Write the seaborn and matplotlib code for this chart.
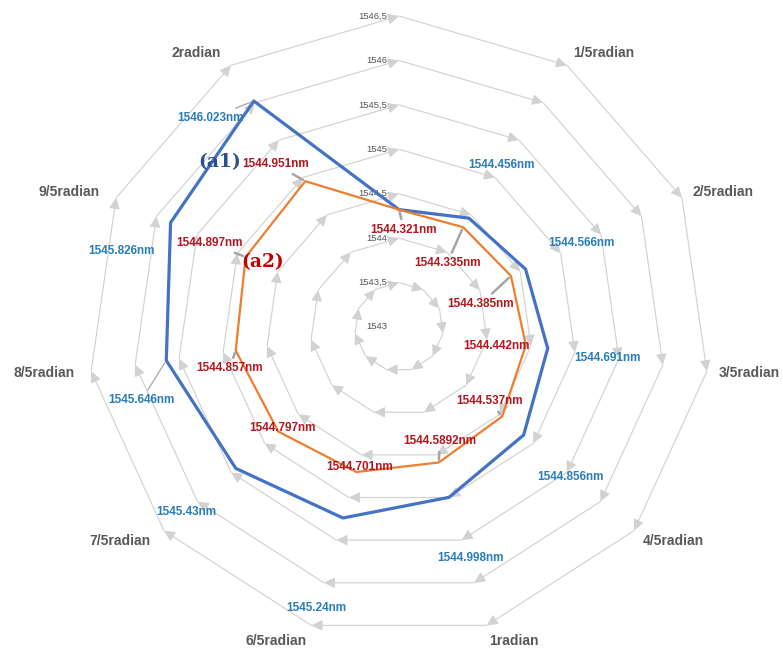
import numpy as np
import matplotlib
matplotlib.use("Agg")
import matplotlib.pyplot as plt
import seaborn as sns

# Angular categories (clockwise from the top)
categories = ["", "1/5radian", "2/5radian", "3/5radian", "4/5radian", "1radian",
              "6/5radian", "7/5radian", "8/5radian", "9/5radian", "2radian"]

# Resonance wavelengths (nm)
series_a1 = [1544.321, 1544.456, 1544.566, 1544.691, 1544.856, 1544.998,
             1545.24, 1545.43, 1545.646, 1545.826, 1546.023]
series_a2 = [1544.321, 1544.335, 1544.385, 1544.442, 1544.537, 1544.5892,
             1544.701, 1544.797, 1544.857, 1544.897, 1544.951]
a1_labels = ["", "1544.456nm", "1544.566nm", "1544.691nm", "1544.856nm", "1544.998nm",
             "1545.24nm", "1545.43nm", "1545.646nm", "1545.826nm", "1546.023nm"]
a2_labels = ["1544.321nm", "1544.335nm", "1544.385nm", "1544.442nm", "1544.537nm",
             "1544.5892nm", "1544.701nm", "1544.797nm", "1544.857nm", "1544.897nm",
             "1544.951nm"]

# Radial scale
r_ticks = [1543, 1543.5, 1544, 1544.5, 1545, 1545.5, 1546, 1546.5]
r_tick_labels = ["1543", "1543,5", "1544", "1544,5", "1545", "1545,5", "1546", "1546,5"]

# ---- layout / styling ----
BLUE_LINE = "#4472C4"
ORANGE_LINE = "#ED7D31"
BLUE_TEXT = "#2A7DB8"
RED_TEXT = "#B4161F"
GRID = "#dcdcdc"
ARROW = "#d2d2d2"
CAT_TEXT = "#595959"

# label offsets from the category vertex (pixels, x right / y down)
cat_offsets = [(0, 0), (6, -12), (11, -6), (12, 2), (9, 10), (3, 16),
               (-5, 16), (-13, 10), (-17, 2), (-16, -6), (-10, -12)]
cat_align = ["center", "left", "left", "left", "left", "left",
             "right", "right", "right", "right", "right"]

a1_offsets = [(0, 0), (33, -53), (56, -26), (60, 10), (47, 42), (21, 61),
              (-27, 90), (-50, 44), (-25, 40), (-49, 28), (-43, 17)]
a1_leader = [False, False, False, False, False, False, False, False, True, False, True]
a2_offsets = [(5, 20), (-16, 36), (-30, 28), (-29, 1), (-13, -15), (1, -21),
              (3, -5), (4, -4), (-6, 18), (-36, -14), (-30, -17)]
a2_leader = [True, True, True, False, True, True, False, False, True, True, True]

sns.set_theme(style="white")
plt.rcParams["font.family"] = ["Liberation Sans", "DejaVu Sans"]

fig = plt.figure(figsize=(7.83, 6.51), dpi=100)
fig.patch.set_facecolor("white")
ax = fig.add_axes([88 / 783, 13 / 651, 622 / 783, 622 / 651], projection="polar")
ax.set_theta_zero_location("N")
ax.set_theta_direction(-1)
ax.set_ylim(r_ticks[0], r_ticks[-1])
ax.grid(False)
ax.set_xticks([])
ax.set_yticks([])
ax.spines["polar"].set_visible(False)
ax.patch.set_visible(False)

n = len(categories)
theta = np.arange(n) * 2 * np.pi / n

# Polygon grid with clockwise arrowheads at every vertex
for lvl in r_ticks[1:]:
    for k in range(n):
        ax.annotate("", xy=(theta[k], lvl), xytext=(theta[k - 1], lvl),
                    xycoords="data", textcoords="data", annotation_clip=False,
                    arrowprops=dict(arrowstyle="-|>,head_length=0.55,head_width=0.27",
                                    color=GRID, fc=ARROW, ec=ARROW, lw=0.85,
                                    shrinkA=0, shrinkB=0), zorder=1)

# Radial tick labels along the top axis
for val, lab in zip(r_ticks, r_tick_labels):
    ax.annotate(lab, xy=(0, val), xytext=(-12, 0), textcoords="offset pixels",
                ha="right", va="center", fontsize=6.8, color="#555555",
                annotation_clip=False, zorder=2)

# Category labels
for k, name in enumerate(categories):
    if not name:
        continue
    dx, dy = cat_offsets[k]
    ax.annotate(name, xy=(theta[k], r_ticks[-1]), xytext=(dx, -dy),
                textcoords="offset pixels", ha=cat_align[k], va="center",
                fontsize=10, fontweight="bold", color=CAT_TEXT,
                annotation_clip=False)

# Data polygons
th_closed = np.append(theta, theta[0] + 2 * np.pi)
sns.lineplot(x=th_closed, y=series_a1 + series_a1[:1], sort=False, estimator=None,
             ax=ax, color=BLUE_LINE, linewidth=2.3, zorder=4)
sns.lineplot(x=th_closed, y=series_a2 + series_a2[:1], sort=False, estimator=None,
             ax=ax, color=ORANGE_LINE, linewidth=1.6, zorder=5)
ax.set_xlabel("")
ax.set_ylabel("")
ax.set_xticks([])
ax.set_yticks([])
ax.set_ylim(r_ticks[0], r_ticks[-1])


def value_labels(values, labels, offsets, leaders, color, leader_lw):
    for k, (v, lab) in enumerate(zip(values, labels)):
        if not lab:
            continue
        dx, dy = offsets[k]
        props = None
        if leaders[k]:
            props = dict(arrowstyle="-", color="#a6a6a6", lw=leader_lw,
                         shrinkA=1, shrinkB=2)
        ax.annotate(lab, xy=(theta[k], v), xytext=(dx, -dy),
                    textcoords="offset pixels", ha="center", va="center",
                    fontsize=8.5, fontweight="bold", color=color,
                    arrowprops=props, annotation_clip=False, zorder=6)


value_labels(series_a1, a1_labels, a1_offsets, a1_leader, BLUE_TEXT, 0.9)
value_labels(series_a2, a2_labels, a2_offsets, a2_leader, RED_TEXT, 1.8)

# Series tags
fig.text(220 / 783, 1 - 162 / 651, "(a1)", ha="center", va="center",
         fontsize=13.5, fontweight="bold", color="#2B4E8E", family="DejaVu Serif")
fig.text(263 / 783, 1 - 262 / 651, "(a2)", ha="center", va="center",
         fontsize=13.5, fontweight="bold", color="#C00000", family="DejaVu Serif")

fig.savefig("out.png", dpi=100, facecolor="white")
